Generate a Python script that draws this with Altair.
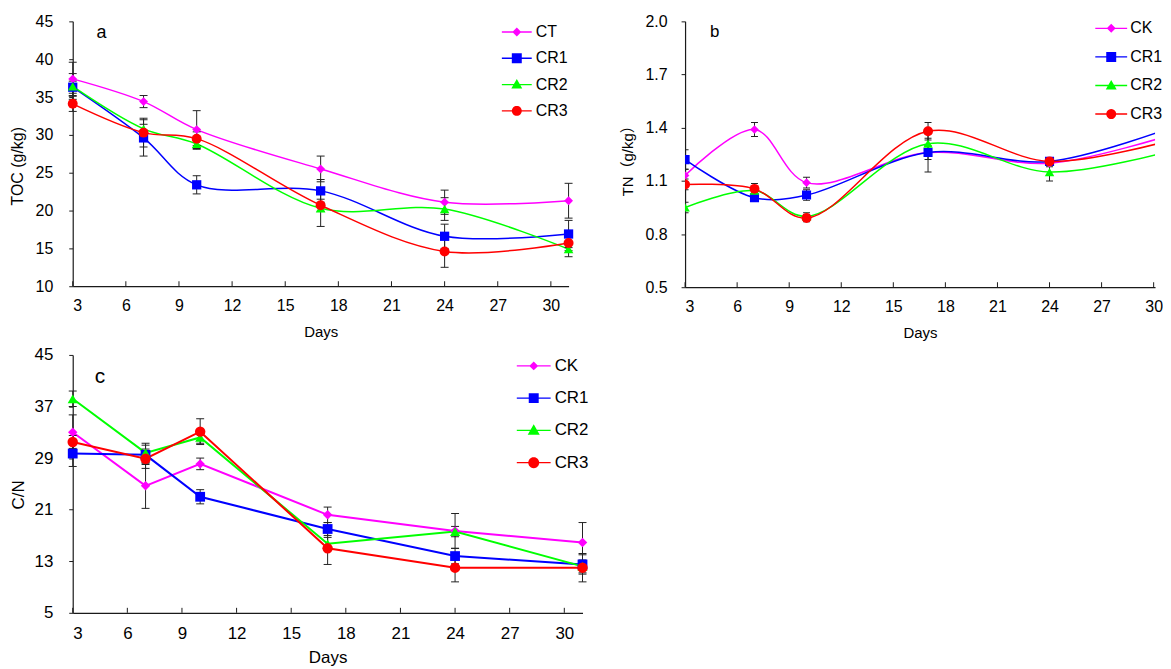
import math
import altair as alt
import pandas as pd

FONT = "Liberation Sans"
AXC = "#1a1a1a"

days = [3, 7, 10, 17, 24, 31]
tick_days = [3, 6, 9, 12, 15, 18, 21, 24, 27, 30]

colors = ["#FF00FF", "#0000FF", "#00FF00", "#FF0000"]
shapes = ["diamond", "square", "triangle-up", "circle"]

# ---- panel a : TOC (g/kg)
a_names = ["CT", "CR1", "CR2", "CR3"]
a_ct = [37.4, 34.4, 30.7, 25.5, 21.1, 21.3]
a_cr1 = [36.3, 29.6, 23.4, 22.6, 16.6, 16.9]
a_cr2 = [36.4, 30.8, 28.8, 20.3, 20.2, 14.9]
a_cr3 = [34.1, 30.3, 29.5, 20.7, 14.6, 15.7]
a_ct_err = [2.2, 0.8, 2.5, 1.7, 1.6, 2.3]
a_cr1_err = [0.8, 2.4, 1.2, 1.5, 1.6, 1.8]
a_cr2_err = [1.7, 0.6, 0.7, 2.4, 1.5, 1.0]
a_cr3_err = [1.0, 1.9, 0.9, 0.8, 2.1, 1.0]

# ---- panel b : TN (g/kg)
b_names = ["CK", "CR1", "CR2", "CR3"]
b_ck = [1.13, 1.39, 1.09, 1.26, 1.20, 1.36]
b_cr1 = [1.22, 1.005, 1.02, 1.26, 1.21, 1.40]
b_cr2 = [0.95, 1.045, 0.90, 1.31, 1.15, 1.27]
b_cr3 = [1.08, 1.055, 0.89, 1.38, 1.21, 1.33]
b_ck_err = [0.035, 0.04, 0.03, 0.04, 0.02, 0.05]
b_cr1_err = [0.055, 0.02, 0.03, 0.11, 0.02, 0.05]
b_cr2_err = [0.03, 0.02, 0.02, 0.03, 0.05, 0.05]
b_cr3_err = [0.03, 0.03, 0.02, 0.05, 0.02, 0.05]

# ---- panel c : C/N
c_names = ["CK", "CR1", "CR2", "CR3"]
c_ck = [33.0, 24.7, 28.1, 20.2, 17.7, 15.9]
c_cr1 = [29.7, 29.5, 23.0, 18.0, 13.8, 12.5]
c_cr2 = [38.2, 29.8, 32.2, 15.7, 17.6, 12.2]
c_cr3 = [31.5, 28.9, 33.1, 15.0, 12.0, 12.0]
c_ck_err = [2.7, 3.5, 0.9, 1.2, 2.7, 3.1]
c_cr1_err = [2.0, 1.5, 1.1, 1.0, 1.2, 1.5]
c_cr2_err = [1.2, 1.5, 0.9, 1.0, 0.8, 1.0]
c_cr3_err = [1.0, 1.5, 2.0, 2.5, 2.2, 2.2]


def f(v):
    return f"{v:.3f}"


def legend_path(kind, L, m, unit):
    h = L / 2 / unit
    t = 0.7 / unit
    r = m / 2 / unit
    p = f"M{f(-h)},{f(-t)}H{f(h)}V{f(t)}H{f(-h)}Z"
    if kind == "diamond":
        p += f"M0,{f(-r)}L{f(r)},0L0,{f(r)}L{f(-r)},0Z"
    elif kind == "square":
        p += f"M{f(-r)},{f(-r)}H{f(r)}V{f(r)}H{f(-r)}Z"
    elif kind == "triangle-up":
        p += f"M0,{f(-r*1.1)}L{f(r*1.1)},{f(r*0.8)}L{f(-r*1.1)},{f(r*0.8)}Z"
    else:
        pts = []
        for i in range(24):
            a = 2 * math.pi * i / 24
            pts.append(f"{f(r*math.cos(a))},{f(r*math.sin(a))}")
        p += "M" + "L".join(pts) + "Z"
    return p


def panel(names, vals, errs, sizes, ydomain, yvals, yfmt, width, height, xmax,
          interp, ytitle, ytx, yty, ytsize, letter, ldx, ldy, lsize,
          legx, legy, leg_rowpad, leg_L, leg_lo, leg_fs, marker_m,
          lpad_y, lpad_x, lab_fs, xt_pad, xt_fs, lw, cap, clip):
    rows = []
    for n, vv, ee in zip(names, vals, errs):
        for d, v, e in zip(days, vv, ee):
            rows.append(dict(series=n, day=d, value=v, lo=v - e, hi=v + e))
    df = pd.DataFrame(rows)

    xaxis = alt.Axis(values=tick_days, format="d", ticks=False, tickSize=0,
                     labelPadding=lpad_x, labelFontSize=lab_fs, labelFont=FONT,
                     labelColor="black", labelAngle=0, title="Days",
                     titleFont=FONT, titleFontSize=xt_fs, titlePadding=xt_pad,
                     titleColor="black", titleFontWeight="normal",
                     domainColor=AXC, domainWidth=1.2, grid=False)
    yaxis = alt.Axis(values=yvals, format=yfmt, tickSize=4, tickColor=AXC,
                     tickWidth=1, labelPadding=lpad_y, labelFontSize=lab_fs,
                     labelFont=FONT, labelColor="black", title=ytitle,
                     titleFont=FONT + ", Noto Sans CJK SC", titleFontSize=ytsize,
                     titleColor="black", titleFontWeight="normal",
                     titleX=ytx, titleY=yty, titleAngle=270,
                     titleBaseline="middle", titleAlign="center",
                     domainColor=AXC, domainWidth=1.2, grid=False)
    xs = alt.Scale(domain=[3, xmax], nice=False, zero=False)
    ys = alt.Scale(domain=ydomain, nice=False, zero=False)
    X = alt.X("day:Q", scale=xs, axis=xaxis)
    Y = alt.Y("value:Q", scale=ys, axis=yaxis)
    Ylo = alt.Y("lo:Q", scale=ys, axis=yaxis)
    Yhi = alt.Y("hi:Q", scale=ys, axis=yaxis)
    col = alt.Color("series:N", scale=alt.Scale(domain=names, range=colors), legend=None)

    base = alt.Chart(df)
    ticks = alt.Chart(pd.DataFrame({"day": tick_days})).mark_rule(
        color=AXC, strokeWidth=1).encode(x=X, y=alt.value(height), y2=alt.value(height - 5))
    lines = base.mark_line(interpolate=interp, strokeWidth=lw, clip=clip).encode(
        x=X, y=Y, color=col, detail="series:N")
    ebar = base.mark_rule(color="#222222", strokeWidth=1, clip=clip).encode(
        x=X, y=Ylo, y2=alt.Y2("hi:Q"))
    ecap_lo = base.mark_tick(orient="horizontal", size=cap, thickness=1,
                             color="#222222", opacity=1, clip=clip).encode(x=X, y=Ylo)
    ecap_hi = base.mark_tick(orient="horizontal", size=cap, thickness=1,
                             color="#222222", opacity=1, clip=clip).encode(x=X, y=Yhi)
    pts = base.mark_point(filled=True, opacity=1, strokeWidth=0, clip=clip).encode(
        x=X, y=Y, color=col,
        shape=alt.Shape("series:N", scale=alt.Scale(domain=names, range=shapes), legend=None),
        size=alt.Size("series:N", scale=alt.Scale(domain=names, range=sizes), legend=None))

    S = max(16, leg_fs)
    unit = S / 2
    paths = [legend_path(k, leg_L, marker_m[i], unit) for i, k in enumerate(shapes)]
    leg = alt.Legend(title=None, orient="none", legendX=legx, legendY=legy,
                     symbolSize=S * S, symbolStrokeWidth=0, symbolOpacity=1,
                     labelOffset=leg_lo, rowPadding=leg_rowpad, labelFont=FONT,
                     labelFontSize=leg_fs, labelColor="black", padding=0)
    legl = base.mark_point(filled=True, opacity=1, strokeWidth=0).encode(
        x=X, y=Y,
        color=alt.Color("series:N", scale=alt.Scale(domain=names, range=colors), legend=leg),
        shape=alt.Shape("series:N", scale=alt.Scale(domain=names, range=paths), legend=leg),
    ).transform_filter("false")

    return alt.layer(ticks, lines, ebar, ecap_lo, ecap_hi, pts, legl).resolve_scale(
        color="independent", shape="independent", size="independent"
    ).properties(
        width=width, height=height,
        title=alt.TitleParams(text=letter, anchor="start", frame="group", orient="top",
                              offset=0, dx=ldx, dy=ldy, fontSize=lsize, font=FONT,
                              fontWeight="normal", color="black", baseline="alphabetic"),
    )


pa = panel(a_names, [a_ct, a_cr1, a_cr2, a_cr3], [a_ct_err, a_cr1_err, a_cr2_err, a_cr3_err],
           [80, 100, 110, 100], [10, 45], [10, 15, 20, 25, 30, 35, 40, 45], "d",
           498, 266, 31, "catmull-rom", "TOC (g/kg)", -55, 145, 16,
           "a", 24, 43, 18,
           438, 2.7, 10.4, 30, 11, 16, [9, 10, 10, 10],
           16, 11, 16, 11, 15, 1.5, 8, False)

pb = panel(b_names, [b_ck, b_cr1, b_cr2, b_cr3], [b_ck_err, b_cr1_err, b_cr2_err, b_cr3_err],
           [75, 100, 110, 100], [0.5, 2.0], [0.5, 0.8, 1.1, 1.4, 1.7, 2.0], ".1f",
           472, 267, 30.08, "catmull-rom", "TN（g/kg）", -58, 136, 15,
           "b", 25, 41, 17,
           420, -1, 12.7, 32, 11, 16, [9, 10, 10, 10],
           14, 11, 16, 11, 15, 1.5, 7, True)

pc = panel(c_names, [c_ck, c_cr1, c_cr2, c_cr3], [c_ck_err, c_cr1_err, c_cr2_err, c_cr3_err],
           [90, 110, 120, 110], [5, 45], [5, 13, 21, 29, 37, 45], "d",
           512, 259, 31, "linear", "C/N", -54, 140, 17,
           "c", 22, 58, 21,
           454.5, 2.5, 14.4, 34, 12.5, 17, [9, 10, 11, 11],
           16, 13, 17, 8, 17, 2, 8, False)

chart = alt.concat(
    pa, pb, pc, columns=2,
    spacing=alt.RowColnumber(row=68, column=103),
    bounds="flush", align="each",
).resolve_scale(
    color="independent", shape="independent", size="independent"
).properties(
    padding={"left": 2, "top": 4, "right": 0, "bottom": 0},
    background="white",
).configure_view(stroke=None)

chart.save("out.html", embed_options={"renderer": "svg", "actions": False})
